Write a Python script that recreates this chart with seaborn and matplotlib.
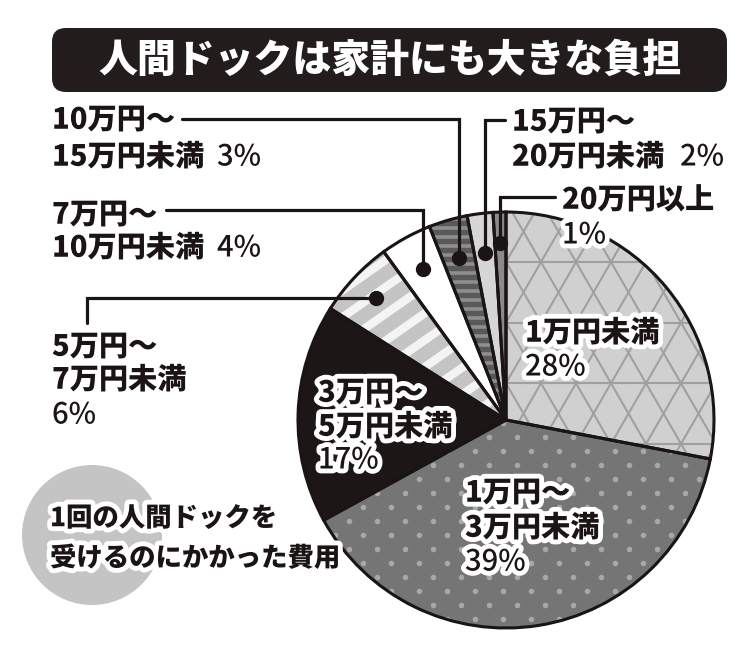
import numpy as np
import matplotlib
matplotlib.use('Agg')
import matplotlib.pyplot as plt
import seaborn as sns
from matplotlib.patches import FancyBboxPatch, Circle
from matplotlib.collections import LineCollection
import matplotlib.patheffects as pe

# ---------------- data ----------------
categories = ['1万円未満', '1万円～3万円未満', '3万円～5万円未満', '5万円～7万円未満',
              '7万円～10万円未満', '10万円～15万円未満', '15万円～20万円未満', '20万円以上']
shares = [28, 39, 17, 6, 4, 3, 2, 1]
pct_labels = [f'{v}%' for v in shares]
title = '人間ドックは家計にも大きな負担'
subtitle_lines = ['1回の人間ドックを', '受けるのにかかった費用']

# ---------------- style ----------------
face_colors = ['#d0d0d0', '#757575', '#1c1616', '#c4c4c4', '#ffffff', '#595959', '#d6d6d6', '#8a8a8a']

sns.set_theme(style='white')
plt.rcParams['font.family'] = ['Noto Sans CJK JP', 'DejaVu Sans']

W, H = 750, 649
fig = plt.figure(figsize=(7.5, 6.49), dpi=100)
ax = fig.add_axes([0, 0, 1, 1])


def Y(py):
    return H - py


cx, cy, R = 506, Y(420), 208
wedges, _ = ax.pie(shares, colors=face_colors, startangle=90, counterclock=False,
                   center=(cx, cy), radius=R, frame=True,
                   wedgeprops=dict(edgecolor='none', linewidth=0, zorder=2))

x0, x1, y0, y1 = cx - R - 5, cx + R + 5, cy - R - 5, cy + R + 5

# --- 28%: triangle lattice ---
d = 35
t60 = np.tan(np.radians(60))
hs = d * t60          # spacing of horizontal lines (every other crossing row)
yc = Y(262)
segs = []
for yy in np.arange(yc - 10 * hs, y1 + hs, hs):
    segs.append([(x0, yy), (x1, yy)])
for xb in np.arange(cx - 30 * d, cx + 30 * d, d):
    segs.append([(xb + (y0 - yc) / t60, y0), (xb + (y1 - yc) / t60, y1)])
    segs.append([(xb - (y0 - yc) / t60, y0), (xb - (y1 - yc) / t60, y1)])
lc = LineCollection(segs, colors='#a0a0a0', linewidths=1.5, zorder=3)
ax.add_collection(lc)
lc.set_clip_path(wedges[0])

# --- 39%: dots ---
px, py = [], []
for k, yy in enumerate(np.arange(y0, y1, 14)):
    off = 14 if k % 2 else 0
    for xx in np.arange(x0 + off, x1, 28):
        px.append(xx)
        py.append(yy)
sc = ax.scatter(px, py, s=16, color='#a8a8a8', linewidths=0, zorder=3)
sc.set_clip_path(wedges[1])

# --- 6%: white diagonal stripes ---
ang = np.radians(35)
dirv = np.array([np.cos(ang), np.sin(ang)])
nrm = np.array([-np.sin(ang), np.cos(ang)])
segs = []
for o in np.arange(-2 * R, 2 * R, 22):
    p = np.array([cx, cy]) + o * nrm
    segs.append([tuple(p - 2 * R * dirv), tuple(p + 2 * R * dirv)])
lc = LineCollection(segs, colors='#f4f4f4', linewidths=6, zorder=3)
ax.add_collection(lc)
lc.set_clip_path(wedges[3])

# --- 3%: horizontal light stripes ---
segs = [[(x0, yy), (x1, yy)] for yy in np.arange(y0, y1, 9)]
lc = LineCollection(segs, colors='#8e8e8e', linewidths=2.6, zorder=3)
ax.add_collection(lc)
lc.set_clip_path(wedges[5])

# outlines
ax.pie(shares, startangle=90, counterclock=False, center=(cx, cy), radius=R, frame=True,
       wedgeprops=dict(fill=False, edgecolor='#1a1414', linewidth=2.2, zorder=5))

ax.set_xlim(0, W)
ax.set_ylim(0, H)
ax.set_aspect('equal')
ax.axis('off')

glow = [pe.Stroke(linewidth=7, foreground='white'), pe.Normal()]
FS = 21
BOLD = dict(fontsize=FS, fontweight='heavy', color='#1a1414', va='center', ha='left',
            zorder=10, path_effects=glow)
REG = dict(fontsize=FS, fontweight='medium', color='#1a1414', va='center', ha='left',
           zorder=10, path_effects=glow)


def split_cat(c):
    if '～' in c:
        a, b = c.split('～')
        return [a + '～', b]
    return [c]


# ---------- inside labels ----------
inside = {0: [(525, 333), (525, 367)],
          1: [(465, 493), (465, 528), (465, 562)],
          2: [(318, 393), (318, 427), (318, 460)]}
for i, pos in inside.items():
    lines = split_cat(categories[i])
    for (lx, ly), s in zip(pos, lines):
        ax.text(lx, Y(ly), s, **BOLD)
    lx, ly = pos[-1]
    ax.text(lx, Y(ly), pct_labels[i], **REG)

# ---------- outside labels ----------
outside = {
    3: dict(lines=[(52, 347), (52, 380)], pct=(52, 415), frac=0.86),
    4: dict(lines=[(52, 215), (52, 248)], pct=(217, 248), ly=210, lx=166, frac=0.83),
    5: dict(lines=[(52, 120), (52, 157)], pct=(217, 157), ly=119, lx=182, frac=0.81),
    6: dict(lines=[(512, 122), (512, 157)], pct=(680, 157), ly=120, lx=505, frac=0.81),
    7: dict(lines=[(562, 200)], pct=(562, 235), ly=197, lx=555, frac=0.85),
}
for i, o in outside.items():
    for (lx, ly), s in zip(o['lines'], split_cat(categories[i])):
        ax.text(lx, Y(ly), s, **BOLD)
    ax.text(o['pct'][0], Y(o['pct'][1]), pct_labels[i], **REG)
    w = wedges[i]
    mid = np.radians((w.theta1 + w.theta2) / 2)
    dx = cx + o['frac'] * R * np.cos(mid)
    dy = cy + o['frac'] * R * np.sin(mid)
    if i == 3:
        xs = [dx, 87, 87]
        ys = [dy, dy, Y(323)]
    else:
        xs = [dx, dx, o['lx']]
        ys = [dy, Y(o['ly']), Y(o['ly'])]
    ax.plot(xs, ys, color='#1a1414', lw=2.3, zorder=7, solid_joinstyle='miter')
    ax.plot([dx], [dy], 'o', color='#1a1414', ms=10, zorder=8)

# ---------- title ----------
ax.add_patch(FancyBboxPatch((52, Y(92)), 675, 64,
                            boxstyle='round,pad=0,rounding_size=14',
                            fc='#231c1c', ec='none', zorder=9))
ax.text(390, Y(60), title, fontsize=28, fontweight='heavy', color='white',
        ha='center', va='center', zorder=10)

# ---------- subtitle ----------
ax.add_patch(Circle((92, Y(535)), 70, fc='#c4c4c4', ec='none', zorder=1))
for s, ly in zip(subtitle_lines, [518, 558]):
    ax.text(50, Y(ly), s, fontsize=19, fontweight='heavy', color='#1a1414',
            ha='left', va='center', zorder=10, path_effects=glow)

fig.savefig('out.png', dpi=100, facecolor='white')
